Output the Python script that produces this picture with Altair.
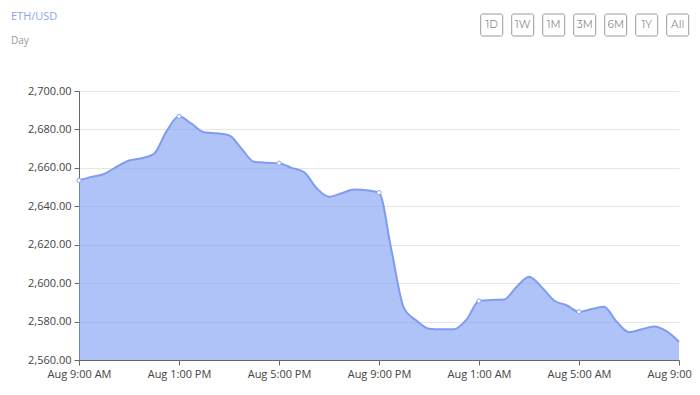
import altair as alt
import pandas as pd

# half-hourly ETH/USD prices, Aug 9 9:00 AM -> Aug 10 9:00 AM
prices = [
    2653.5, 2655.3, 2656.8, 2660.5, 2663.8, 2665.0, 2667.3, 2679.0,
    2686.8, 2683.0, 2678.5, 2678.0, 2677.0, 2670.0, 2663.2, 2662.7,
    2662.4, 2660.0, 2657.8, 2649.5, 2645.0, 2646.8, 2648.7, 2648.3,
    2647.1, 2617.0, 2587.0, 2580.5, 2576.3, 2576.0, 2576.0, 2581.0,
    2590.7, 2591.2, 2591.5, 2598.0, 2603.3, 2598.0, 2591.0, 2588.5,
    2585.1, 2586.5, 2587.7, 2580.0, 2574.5, 2576.0, 2577.5, 2575.0,
    2569.5,
]
times = pd.date_range("2024-08-09 09:00", periods=len(prices), freq="30min")
marker_every = 8  # a marker every 4 hours

y_ticks = [2560, 2580, 2600, 2620, 2640, 2660, 2680, 2700]
x_ticks = pd.date_range("2024-08-09 09:00", periods=7, freq="4h")
buttons = ["1D", "1W", "1M", "3M", "6M", "1Y", "All"]
header_title = "ETH/USD"
header_sub = "Day"

df = pd.DataFrame({"time": times.strftime("%Y-%m-%dT%H:%M:%S"), "price": prices})
df["marker"] = [(i % marker_every == 0 and i < len(prices) - 1) for i in range(len(prices))]
btn = pd.DataFrame({"label": buttons, "idx": list(range(len(buttons)))})

W, H = 600, 269
FONT = "Open Sans"

x_enc = alt.X(
    "time:T",
    scale=alt.Scale(domain=[df["time"].iloc[0], df["time"].iloc[-1]], nice=False),
    axis=alt.Axis(
        values=[t.strftime("%Y-%m-%dT%H:%M:%S") for t in x_ticks],
        format="%b %-I:%M %p",
        labelExpr="datum.index == 1 ? 'Aug 9:00' : datum.label",
        labelAlign={"condition": {"test": "datum.index == 1", "value": "left"}, "value": "center"},
        labelOffset={"condition": {"test": "datum.index == 1", "value": -32}, "value": 0},
        title=None,
        grid=False,
        labelFont=FONT,
        labelFontSize=11,
        labelColor="#444",
        domainColor="#666",
        tickColor="#666",
        tickSize=5,
        labelPadding=3,
        labelOverlap=False,
        labelBound=False,
        labelFlush=False,
    ),
)
y_enc = alt.Y(
    "price:Q",
    scale=alt.Scale(domain=[2560, 2700], nice=False, zero=False),
    axis=alt.Axis(
        values=y_ticks,
        tickCount=8,
        format=",.2f",
        title=None,
        grid=True,
        gridColor="#e6e6e6",
        labelFont=FONT,
        labelFontSize=11,
        labelColor="#444",
        labelOverlap=False,
        labelBound=False,
        domainColor="#666",
        tickColor="#666",
        tickSize=5,
        labelPadding=3,
    ),
)

base = alt.Chart(df)
area = base.mark_area(interpolate="monotone", color="#7b9bf5", opacity=0.6, clip=True).encode(x=x_enc, y=y_enc)
line = base.mark_line(interpolate="monotone", color="#7f9cf0", strokeWidth=2).encode(x=x_enc, y=y_enc)
pts = base.transform_filter("datum.marker").mark_point(
    filled=True, fill="white", stroke="#8aa4f0", strokeWidth=1, size=18, opacity=1
).encode(x=x_enc, y=y_enc)

bx = alt.Chart(btn).transform_calculate(
    bx1="401.7 + 31*datum.idx", bx2="423.7 + 31*datum.idx", cx="412.7 + 31*datum.idx"
)
rects = bx.mark_rect(fill="white", stroke="#9a9a9a", strokeWidth=1, cornerRadius=2).encode(
    x=alt.X("bx1:Q", scale=None), x2="bx2:Q", y=alt.value(-77), y2=alt.value(-55)
)
labels = bx.mark_text(font="Montserrat, Lato", fontSize=10.5, color="#8a8a8a", baseline="middle", align="center").encode(
    x=alt.X("cx:Q", scale=None), y=alt.value(-66), text="label:N"
)

hdr = alt.Chart(pd.DataFrame({"t": [header_title]})).mark_text(
    font=FONT, fontSize=11, color="#8ea6e6", align="left", baseline="middle"
).encode(x=alt.value(-68), y=alt.value(-74), text="t:N")
sub = alt.Chart(pd.DataFrame({"t": [header_sub]})).mark_text(
    font=FONT, fontSize=10, color="#9a9a9a", align="left", baseline="middle"
).encode(x=alt.value(-68), y=alt.value(-50), text="t:N")

chart = alt.layer(area, line, pts, rects, labels, hdr, sub).properties(
    width=W,
    height=H,
    autosize=alt.AutoSizeParams(type="none"),
    padding={"left": 71, "top": 83, "right": 13, "bottom": 22},
).configure_view(stroke=None)

chart.save("out.html", embed_options={"renderer": "svg", "actions": False})
